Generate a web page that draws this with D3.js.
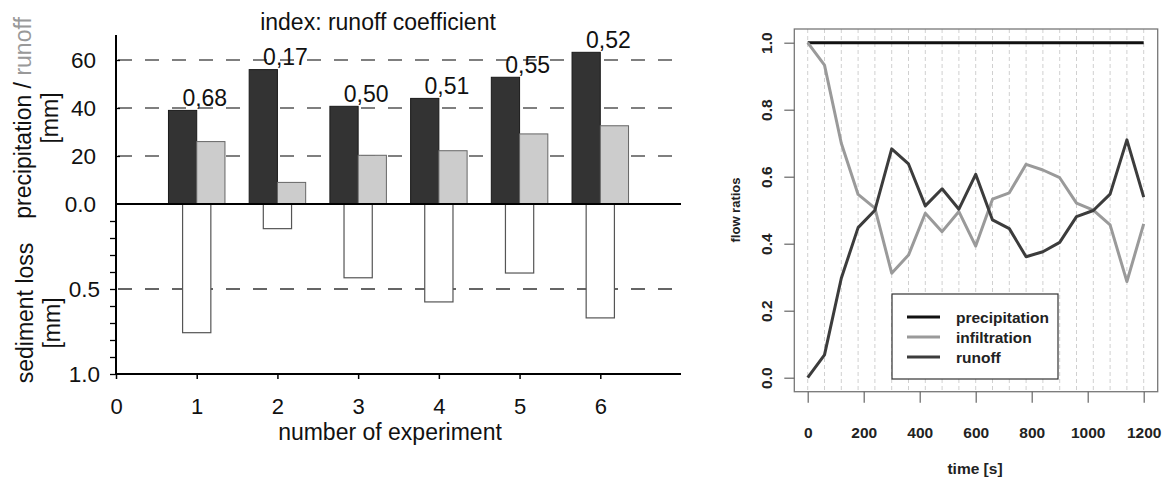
<!DOCTYPE html>
<html><head><meta charset="utf-8">
<script src="https://cdn.jsdelivr.net/npm/d3@7"></script>
<style>body{margin:0;background:#fff}svg{display:block}text{font-family:"Liberation Sans",Arial,sans-serif}</style>
</head><body>
<script>
// ---- Left chart data ----
const experiments = [1, 2, 3, 4, 5, 6];
const precipitation = [39, 56, 40.7, 44, 52.8, 63.2];
const runoff = [26, 9, 20.3, 22.2, 29.2, 32.6];
const sedimentLoss = [0.757, 0.145, 0.434, 0.576, 0.406, 0.67];
const runoffCoef = ["0,68", "0,17", "0,50", "0,51", "0,55", "0,52"];
const xTicksLeft = [0, 1, 2, 3, 4, 5, 6];
const yTicksTop = [0, 20, 40, 60];
const yTickLabelsTop = ["0.0", "20", "40", "60"];
const yTicksBottom = [0.5, 1.0];
const yTickLabelsBottom = ["0.5", "1.0"];

// ---- Right chart data ----
const time = [0,60,120,180,240,300,360,420,480,540,600,660,720,780,840,900,960,1020,1080,1140,1200];
const precipRatio = [1,1,1,1,1,1,1,1,1,1,1,1,1,1,1,1,1,1,1,1,1];
const infiltrationRatio = [1.0,0.933,0.70,0.547,0.506,0.312,0.366,0.491,0.436,0.496,0.393,0.533,0.552,0.637,0.62,0.597,0.521,0.50,0.456,0.287,0.459];
const runoffRatio = [0.0,0.068,0.297,0.448,0.50,0.683,0.638,0.513,0.564,0.503,0.607,0.471,0.445,0.361,0.376,0.404,0.481,0.499,0.548,0.71,0.539];
const xTicksRight = [0,200,400,600,800,1000,1200];
const yTicksRight = [0,0.2,0.4,0.6,0.8,1.0];
const legendLabels = ["precipitation", "infiltration", "runoff"];

const W = 1170, H = 477;
const svg = d3.select("body").append("svg").attr("width", W).attr("height", H);
svg.append("rect").attr("width", W).attr("height", H).attr("fill", "#fff");

// ================= LEFT CHART =================
const L = svg.append("g");
const x = d3.scaleLinear().domain([0, 7]).range([116, 681]);
const yTop = d3.scaleLinear().domain([0, 70]).range([204, 36]);
const yBot = d3.scaleLinear().domain([0, 1]).range([204, 374]);
const bw = x(0.35) - x(0);

// gridlines
L.selectAll("line.gt").data([20, 40, 60]).join("line")
  .attr("x1", 118).attr("x2", 676).attr("y1", d => yTop(d)).attr("y2", d => yTop(d))
  .attr("stroke", "#555").attr("stroke-width", 1.3).attr("stroke-dasharray", "14,13");
L.append("line").attr("x1", 118).attr("x2", 676).attr("y1", yBot(0.5)).attr("y2", yBot(0.5))
  .attr("stroke", "#333").attr("stroke-width", 1.3).attr("stroke-dasharray", "14,13");

// bars
L.selectAll("rect.p").data(experiments).join("rect")
  .attr("x", (d) => x(d) - bw).attr("width", bw)
  .attr("y", (d, i) => yTop(precipitation[i])).attr("height", (d, i) => yTop(0) - yTop(precipitation[i]))
  .attr("fill", "#333").attr("stroke", "#1a1a1a").attr("stroke-width", 1);
L.selectAll("rect.r").data(experiments).join("rect")
  .attr("x", (d) => x(d)).attr("width", bw)
  .attr("y", (d, i) => yTop(runoff[i])).attr("height", (d, i) => yTop(0) - yTop(runoff[i]))
  .attr("fill", "#cccccc").attr("stroke", "#666").attr("stroke-width", 1);
L.selectAll("rect.s").data(experiments).join("rect")
  .attr("x", (d) => x(d) - bw / 2).attr("width", bw)
  .attr("y", yBot(0)).attr("height", (d, i) => yBot(sedimentLoss[i]) - yBot(0))
  .attr("fill", "#fff").attr("stroke", "#555").attr("stroke-width", 1.2);

// coefficient labels
L.selectAll("text.c").data(experiments).join("text")
  .attr("x", d => x(d + 0.1)).attr("y", (d, i) => yTop(precipitation[i]) - 4.5)
  .attr("text-anchor", "middle").attr("font-size", 23).attr("fill", "#111")
  .text((d, i) => runoffCoef[i]);

// axes lines
L.append("line").attr("x1", 116).attr("x2", 116).attr("y1", 35).attr("y2", 375).attr("stroke", "#000").attr("stroke-width", 2);
L.append("line").attr("x1", 115).attr("x2", x(7)).attr("y1", yTop(0)).attr("y2", yTop(0)).attr("stroke", "#000").attr("stroke-width", 2);

// upper y axis
const axTop = L.append("g").attr("transform", "translate(116,0)")
  .call(d3.axisLeft(yTop).tickValues(yTicksTop).tickSizeInner(-4).tickSizeOuter(0).tickPadding(20)
    .tickFormat((d, i) => yTickLabelsTop[i]));
axTop.select(".domain").remove();
axTop.selectAll("line").attr("stroke", "#000").attr("stroke-width", 1.3);
axTop.selectAll("text").attr("font-size", 22.5).attr("fill", "#111").attr("font-family", "Liberation Sans, Arial, sans-serif");
axTop.selectAll(".tick").filter(d => d === 0).select("line").remove();

// lower y axis
const axBot = L.append("g").attr("transform", "translate(116,0)")
  .call(d3.axisLeft(yBot).tickValues(d3.range(1, 11).map(v => v / 10)).tickSizeInner(6).tickSizeOuter(0).tickPadding(10)
    .tickFormat(d => { const k = yTicksBottom.findIndex(v => Math.abs(v - d) < 1e-9); return k >= 0 ? yTickLabelsBottom[k] : ""; }));
axBot.select(".domain").remove();
axBot.selectAll("line").attr("stroke", "#000").attr("stroke-width", 1.3);
axBot.selectAll("text").attr("font-size", 22.5).attr("fill", "#111").attr("font-family", "Liberation Sans, Arial, sans-serif");

// x axis
const axX = L.append("g").attr("transform", "translate(0,374)")
  .call(d3.axisBottom(x).tickValues(xTicksLeft).tickSizeInner(5).tickSizeOuter(0).tickPadding(19).tickFormat(d3.format("d")));
axX.select(".domain").attr("stroke", "#000").attr("stroke-width", 2).attr("d", `M116,0H${x(7)}`);
axX.selectAll("line").attr("stroke", "#000").attr("stroke-width", 1.5);
axX.selectAll("text").attr("font-size", 22).attr("fill", "#111").attr("font-family", "Liberation Sans, Arial, sans-serif");

// titles
L.append("text").attr("x", 378).attr("y", 30).attr("text-anchor", "middle").attr("font-size", 23).attr("fill", "#111")
  .text("index: runoff coefficient");
L.append("text").attr("x", 390).attr("y", 440).attr("text-anchor", "middle").attr("font-size", 23).attr("fill", "#111")
  .text("number of experiment");
const yl1 = L.append("text").attr("transform", "translate(31,118) rotate(-90)").attr("text-anchor", "middle").attr("font-size", 23).attr("fill", "#111");
yl1.append("tspan").text("precipitation / ");
yl1.append("tspan").attr("fill", "#999").text("runoff");
L.append("text").attr("transform", "translate(58,118) rotate(-90)").attr("text-anchor", "middle").attr("font-size", 23).attr("fill", "#111").text("[mm]");
L.append("text").attr("transform", "translate(33,313) rotate(-90)").attr("text-anchor", "middle").attr("font-size", 23).attr("fill", "#111").text("sediment loss");
L.append("text").attr("transform", "translate(60,323) rotate(-90)").attr("text-anchor", "middle").attr("font-size", 23).attr("fill", "#111").text("[mm]");

// ================= RIGHT CHART =================
const R = svg.append("g");
const xR = d3.scaleLinear().domain([0, 1200]).range([807.7, 1143.7]);
const yR = d3.scaleLinear().domain([0, 1]).range([377.7, 42.7]);
const box = { x0: 794.3, y0: 29, x1: 1157.7, y1: 391.7 };
const fontR = 15.5;

// vertical dashed grid
R.selectAll("line.vg").data(time).join("line")
  .attr("x1", d => xR(d)).attr("x2", d => xR(d)).attr("y1", box.y0).attr("y2", box.y1)
  .attr("stroke", "#d0d0d0").attr("stroke-width", 1).attr("stroke-dasharray", "4,3");

R.append("rect").attr("x", box.x0).attr("y", box.y0).attr("width", box.x1 - box.x0).attr("height", box.y1 - box.y0)
  .attr("fill", "none").attr("stroke", "#777").attr("stroke-width", 1.3);

const line = d3.line().x((d, i) => xR(time[i])).y(d => yR(d));
const series = [
  { vals: precipRatio, color: "#111" },
  { vals: infiltrationRatio, color: "#9a9a9a" },
  { vals: runoffRatio, color: "#3c3c3c" }
];
R.selectAll("path.s").data(series).join("path")
  .attr("d", d => line(d.vals)).attr("fill", "none").attr("stroke", d => d.color)
  .attr("stroke-width", 3).attr("stroke-linejoin", "round");

// y axis
const ayR = R.append("g").attr("transform", `translate(${box.x0},0)`)
  .call(d3.axisLeft(yR).tickValues(yTicksRight).tickSize(10).tickFormat(d3.format(".1f")));
ayR.select(".domain").remove();
ayR.selectAll("line").attr("stroke", "#666").attr("stroke-width", 1.2);
ayR.selectAll("text").attr("font-size", fontR).attr("font-weight", "bold").attr("fill", "#222")
  .attr("font-family", "Liberation Sans, Arial, sans-serif")
  .attr("transform", "rotate(-90)").attr("x", 0).attr("y", -22).attr("dy", "0").attr("text-anchor", "middle");

// x axis
const axR = R.append("g").attr("transform", `translate(0,${box.y1})`)
  .call(d3.axisBottom(xR).tickValues(xTicksRight).tickSize(11).tickPadding(24).tickFormat(d3.format("d")));
axR.select(".domain").remove();
axR.selectAll("line").attr("stroke", "#666").attr("stroke-width", 1.2);
axR.selectAll("text").attr("font-size", fontR).attr("font-weight", "bold").attr("fill", "#222")
  .attr("font-family", "Liberation Sans, Arial, sans-serif");

R.append("text").attr("x", 975).attr("y", 474).attr("text-anchor", "middle").attr("font-size", fontR).attr("font-weight", "bold").attr("fill", "#222").text("time [s]");
R.append("text").attr("transform", "translate(740,210) rotate(-90)").attr("text-anchor", "middle").attr("font-size", 13).attr("font-weight", "bold").attr("fill", "#222").text("flow ratios");

// legend
const lg = R.append("g");
lg.append("rect").attr("x", 892).attr("y", 294).attr("width", 166).attr("height", 85).attr("fill", "#fff").attr("stroke", "#333").attr("stroke-width", 1.2);
const lgY = d3.scalePoint().domain(legendLabels).range([317, 357]);
lg.selectAll("line").data(legendLabels).join("line")
  .attr("x1", 907).attr("x2", 940).attr("y1", d => lgY(d)).attr("y2", d => lgY(d))
  .attr("stroke", (d, i) => series[i].color).attr("stroke-width", 3);
lg.selectAll("text").data(legendLabels).join("text")
  .attr("x", 956).attr("y", d => lgY(d) + 5.5).attr("font-size", fontR).attr("font-weight", "bold").attr("fill", "#222").text(d => d);
</script>
</body></html>
